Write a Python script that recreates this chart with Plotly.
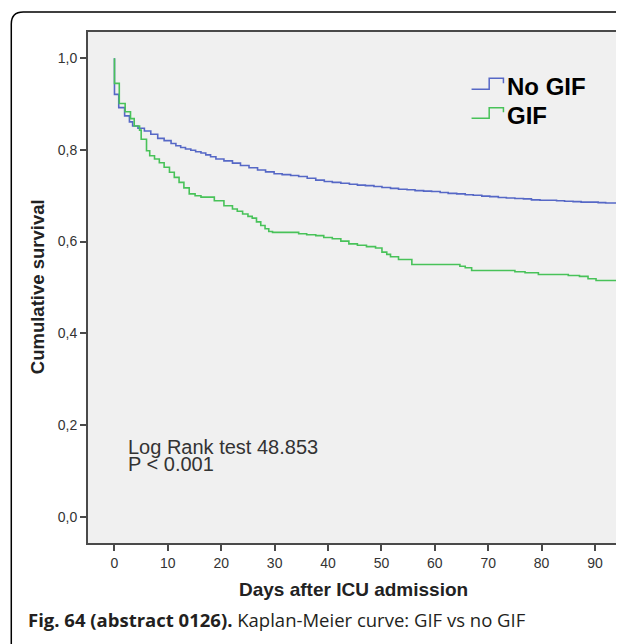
import plotly.graph_objects as go

# Kaplan-Meier curves (days, cumulative survival)
no_gif_days = [0, 0, 0.8, 1.9, 2.8, 3.4, 4.4, 5.6, 6.8, 8.1, 9.3, 10.6, 11.5, 12.4, 13.3,
               14.3, 15.2, 16.2, 17.1, 18.0, 19.0, 20.5, 22.1, 23.6, 25.2, 26.8, 28.3,
               29.9, 31.4, 33.0, 34.5, 36.1, 37.7, 39.3, 40.8, 42.4, 44.0, 45.5, 47.0,
               48.6, 50.1, 51.7, 53.2, 54.8, 56.3, 57.9, 59.4, 61.0, 62.5, 64.1, 65.7,
               67.2, 68.8, 70.3, 71.9, 73.4, 75.0, 76.6, 78.1, 79.7, 81.2, 82.8, 84.3,
               85.9, 87.4, 89.0, 90.6, 92.0, 95.0]
no_gif_surv = [1.0, 0.921, 0.892, 0.874, 0.861, 0.852, 0.847, 0.841, 0.834, 0.825, 0.820,
               0.814, 0.809, 0.805, 0.802, 0.799, 0.796, 0.793, 0.789, 0.785, 0.780,
               0.776, 0.771, 0.766, 0.761, 0.756, 0.752, 0.748, 0.746, 0.744, 0.742,
               0.738, 0.734, 0.731, 0.729, 0.727, 0.725, 0.723, 0.722, 0.720, 0.718,
               0.716, 0.714, 0.713, 0.711, 0.710, 0.709, 0.707, 0.705, 0.704, 0.702,
               0.701, 0.699, 0.698, 0.696, 0.695, 0.694, 0.693, 0.691, 0.690, 0.690,
               0.689, 0.688, 0.687, 0.686, 0.686, 0.685, 0.684, 0.684]

gif_days = [0, 0, 0.9, 2.0, 3.0, 3.7, 4.7, 5.0, 6.0, 6.6, 7.5, 8.4, 9.3, 10.3, 11.2, 12.1,
            13.0, 14.0, 15.1, 16.2, 18.7, 20.5, 22.1, 23.0, 24.0, 25.0, 25.8, 26.6, 27.4,
            28.2, 28.9, 29.6, 34.5, 36.0, 37.7, 39.2, 40.8, 42.4, 43.9, 45.5, 47.2, 48.9,
            50.1, 51.0, 51.7, 53.2, 55.7, 64.7, 65.7, 66.9, 75.0, 76.9, 79.4, 85.0, 87.1,
            88.7, 90.2, 95.0]
gif_surv = [1.0, 0.945, 0.901, 0.883, 0.868, 0.852, 0.843, 0.823, 0.798, 0.787, 0.780,
            0.772, 0.762, 0.751, 0.740, 0.729, 0.717, 0.704, 0.700, 0.697, 0.689, 0.678,
            0.671, 0.666, 0.660, 0.655, 0.651, 0.643, 0.635, 0.628, 0.622, 0.620, 0.617,
            0.615, 0.613, 0.609, 0.606, 0.601, 0.595, 0.592, 0.589, 0.586, 0.577, 0.572,
            0.567, 0.561, 0.550, 0.546, 0.543, 0.537, 0.534, 0.532, 0.528, 0.526, 0.524,
            0.519, 0.515, 0.515]

x_ticks = [0, 10, 20, 30, 40, 50, 60, 70, 80, 90]
y_ticks = [0.0, 0.2, 0.4, 0.6, 0.8, 1.0]
y_tick_labels = ["0,0", "0,2", "0,4", "0,6", "0,8", "1,0"]

BLUE = "#5668c6"
GREEN = "#48c259"

# the page body adds an 8px margin, so figure coords = screen coords - 8
OFF = 8
L, R, T, B = 88 - OFF, 621 - OFF, 32 - OFF, 543 - OFF


def px(x):
    # screen pixel x -> paper fraction
    return (x - OFF - L) / (R - L)


def py(y):
    # screen pixel y -> paper fraction
    return (B - (y - OFF)) / (B - T)


fig = go.Figure()
fig.add_trace(go.Scatter(x=no_gif_days, y=no_gif_surv, mode="lines", line_shape="hv",
                         line=dict(color=BLUE, width=1.6), name="No GIF"))
fig.add_trace(go.Scatter(x=gif_days, y=gif_surv, mode="lines", line_shape="hv",
                         line=dict(color=GREEN, width=1.6), name="GIF"))

fig.update_layout(
    width=624, height=644,
    margin=dict(l=L, r=624 - R, t=T, b=644 - B),
    paper_bgcolor="white",
    plot_bgcolor="#f0f0f0",
    showlegend=False,
    font=dict(family="Liberation Sans, Arial", color="#333"),
)
fig.update_xaxes(
    range=[-4.96, 94.5], tickvals=x_ticks, showgrid=False, zeroline=False,
    showline=True, mirror=True, linecolor="#4a4a4a", linewidth=2,
    ticks="outside", ticklen=6, tickcolor="#4a4a4a", tickwidth=1.5,
    tickfont=dict(size=14, color="#333"),
)
fig.update_yaxes(
    range=[-0.0574, 1.057], tickvals=y_ticks, ticktext=y_tick_labels,
    showgrid=False, zeroline=False,
    showline=True, mirror=True, linecolor="#4a4a4a", linewidth=2,
    ticks="outside", ticklen=6, tickcolor="#4a4a4a", tickwidth=1.5,
    tickfont=dict(size=14, color="#333"),
)

# legend drawn as step icons + labels, like the SPSS output
for name, color, ylow, yhigh, yend, ytext in [("No GIF", BLUE, 89.3, 78.3, 83.3, 86),
                                              ("GIF", GREEN, 118.3, 107.7, 112.3, 115)]:
    path = (f"M {px(473)},{py(ylow)} L {px(490.7)},{py(ylow)} L {px(490.7)},{py(yhigh)} "
            f"L {px(505)},{py(yhigh)} L {px(505)},{py(yend)}")
    fig.add_shape(type="path", xref="paper", yref="paper", path=path,
                  line=dict(color=color, width=1.5))
    fig.add_annotation(x=px(507), y=py(ytext), xref="paper", yref="paper",
                       text=f"<b>{name}</b>", showarrow=False, xanchor="left", yanchor="middle",
                       font=dict(size=24, color="black", family="Liberation Sans, Arial"))

fig.add_annotation(x=px(126), y=py(447), xref="paper", yref="paper",
                   text="Log Rank test 48.853", showarrow=False,
                   xanchor="left", yanchor="middle", font=dict(size=20, color="#333"))
fig.add_annotation(x=px(126), y=py(464), xref="paper", yref="paper",
                   text="P < 0.001", showarrow=False,
                   xanchor="left", yanchor="middle", font=dict(size=20, color="#333"))

# axis titles
fig.add_annotation(x=px(355), y=py(589), xref="paper", yref="paper",
                   text="<b>Days after ICU admission</b>", showarrow=False,
                   xanchor="center", yanchor="middle", font=dict(size=19, color="#222"))
fig.add_annotation(x=px(37), y=py(287), xref="paper", yref="paper",
                   text="<b>Cumulative survival</b>", showarrow=False, textangle=-90,
                   xanchor="center", yanchor="middle", font=dict(size=18.5, color="#222"))

# caption
fig.add_annotation(x=px(26), y=py(619), xref="paper", yref="paper",
                   text="<b>Fig. 64 (abstract 0126).</b> Kaplan-Meier curve: GIF vs no GIF",
                   showarrow=False, xanchor="left", yanchor="middle",
                   font=dict(size=18.5, color="#231f20", family="Open Sans"))

# rounded outer frame (cut off at right and bottom edges)
frame = (f"M {px(11)},{py(700)} L {px(11)},{py(24)} Q {px(11)},{py(12)} {px(23)},{py(12)} "
         f"L {px(700)},{py(12)}")
fig.add_shape(type="path", xref="paper", yref="paper", path=frame,
              line=dict(color="black", width=1.5))

fig.write_html("out.html")
